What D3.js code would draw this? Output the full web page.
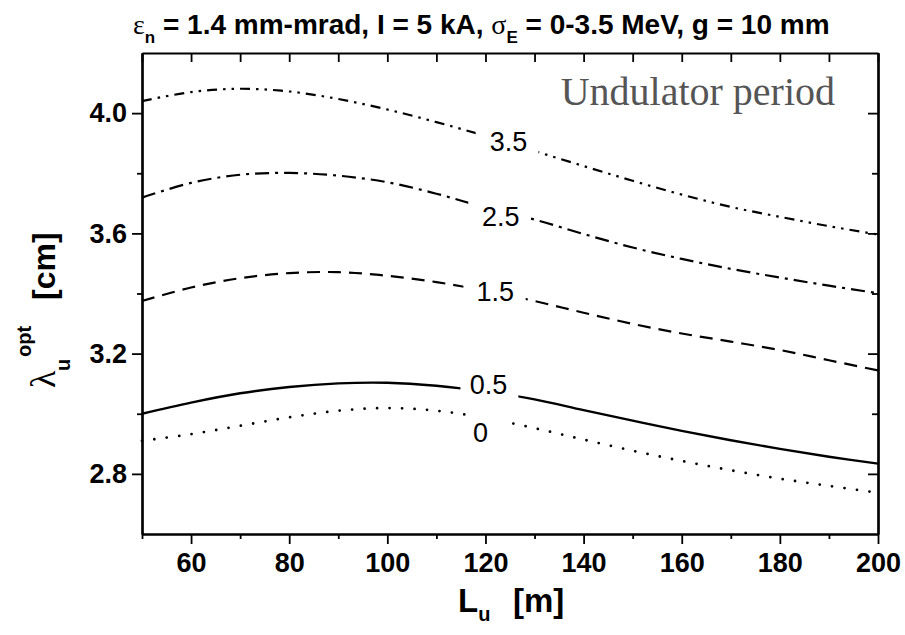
<!DOCTYPE html>
<html>
<head>
<meta charset="utf-8">
<script src="https://cdn.jsdelivr.net/npm/d3@7"></script>
<style>
  html, body { margin: 0; padding: 0; background: #fff; }
  svg { display: block; }
</style>
</head>
<body>
<div id="chart"></div>
<script>
// undulator length L_u [m]
const lengths = [50, 60, 70, 80, 90, 100, 110, 120, 130, 140, 150, 160, 170, 180, 190, 200];

// optimal undulator period [cm], one list per energy spread sigma_E [MeV]
const sigma0   = [2.910, 2.932, 2.960, 2.988, 3.010, 3.019, 3.010, 2.986, 2.952, 2.914, 2.877, 2.843, 2.812, 2.784, 2.760, 2.737];
const sigma0_5 = [3.000, 3.037, 3.068, 3.089, 3.101, 3.103, 3.093, 3.074, 3.048, 3.012, 2.977, 2.943, 2.912, 2.883, 2.857, 2.834];
const sigma1_5 = [3.375, 3.420, 3.451, 3.468, 3.471, 3.459, 3.438, 3.409, 3.375, 3.336, 3.299, 3.267, 3.240, 3.212, 3.178, 3.144];
const sigma2_5 = [3.719, 3.768, 3.795, 3.801, 3.792, 3.770, 3.732, 3.686, 3.646, 3.598, 3.553, 3.515, 3.482, 3.453, 3.426, 3.401];
const sigma3_5 = [4.040, 4.070, 4.081, 4.072, 4.047, 4.012, 3.970, 3.924, 3.874, 3.824, 3.775, 3.729, 3.688, 3.655, 3.624, 3.596];

// inline curve labels: text, where the line is broken (L range) and where the label sits
const curveLabels = ["0", "0.5", "1.5", "2.5", "3.5"];
const gapFrom     = [117.0, 114.9, 115.5, 116.5, 118.0];
const gapTo       = [123.7, 126.7, 128.2, 129.2, 130.8];
const labelL      = [119.0, 120.6, 122.0, 123.1, 124.7];
const labelV      = [2.940, 3.099, 3.408, 3.656, 3.907];

const xMajor = [60, 80, 100, 120, 140, 160, 180, 200];
const xMinor = [50, 70, 90, 110, 130, 150, 170, 190];
const yMajor = [2.8, 3.2, 3.6, 4.0];
const yMinor = [3.0, 3.4, 3.8];

const series = [
    { name: "0",   values: sigma0,   dash: "0 12.5", width: 2.8, cap: "round" },
    { name: "0.5", values: sigma0_5, dash: null,     width: 2.4, cap: "butt" },
    { name: "1.5", values: sigma1_5, dash: "13 8",   width: 2.2, cap: "butt" },
    { name: "2.5", values: sigma2_5, dash: "14 6 3 6", width: 2.2, cap: "butt" },
    { name: "3.5", values: sigma3_5, dash: "10 6 2.5 6 2.5 6", width: 2.2, cap: "butt" }
];

const width = 905, height = 635;
const margin = { top: 53, right: 27, bottom: 101, left: 142 };

const x = d3.scaleLinear([50, 200], [margin.left, width - margin.right]);
const y = d3.scaleLinear([2.6, 4.2], [height - margin.bottom, margin.top]);

const svg = d3.select("#chart").append("svg")
    .attr("width", width)
    .attr("height", height)
    .attr("font-family", "'Liberation Sans', Arial, sans-serif");

// one clip per curve so the line breaks where its label sits
const defs = svg.append("defs");
series.forEach((s, i) => {
    const cp = defs.append("clipPath").attr("id", `gap${i}`);
    cp.append("rect")
        .attr("x", x(50) - 5).attr("y", y(4.2))
        .attr("width", x(gapFrom[i]) - x(50) + 5).attr("height", y(2.6) - y(4.2));
    cp.append("rect")
        .attr("x", x(gapTo[i])).attr("y", y(4.2))
        .attr("width", x(200) - x(gapTo[i]) + 5).attr("height", y(2.6) - y(4.2));
});

const line = d3.line()
    .x((d, i) => x(lengths[i]))
    .y(d => y(d))
    .curve(d3.curveCatmullRom.alpha(0.5));

svg.append("g")
  .selectAll("path")
  .data(series)
  .join("path")
    .attr("clip-path", (d, i) => `url(#gap${i})`)
    .attr("fill", "none")
    .attr("stroke", "#000")
    .attr("stroke-width", d => d.width)
    .attr("stroke-linecap", d => d.cap)
    .attr("stroke-dasharray", d => d.dash)
    .attr("d", d => line(d.values));

svg.append("g")
    .attr("font-size", 27)
    .attr("text-anchor", "middle")
  .selectAll("text")
  .data(curveLabels)
  .join("text")
    .attr("x", (d, i) => x(labelL[i]))
    .attr("y", (d, i) => y(labelV[i]))
    .attr("dy", "0.36em")
    .text(d => d);

// axes
const tickFmt = d3.format(".1f");

function styleAxis(g) {
    g.select(".domain").attr("stroke-width", 2.2);
    g.selectAll(".tick line").attr("stroke-width", 1.8);
    g.selectAll(".tick text")
        .attr("font-size", 27)
        .attr("font-weight", "bold")
        .attr("fill", "#000")
        .attr("font-family", "'Liberation Sans', Arial, sans-serif");
}

const axisB = svg.append("g").attr("transform", `translate(0,${y(2.6)})`);
axisB.call(d3.axisBottom(x).tickValues(xMajor).tickSize(10).tickPadding(9).tickSizeOuter(0))
    .call(styleAxis);
axisB.append("g").call(d3.axisBottom(x).tickValues(xMinor).tickSize(5).tickFormat("").tickSizeOuter(0))
    .call(styleAxis);

const axisL = svg.append("g").attr("transform", `translate(${x(50)},0)`);
axisL.call(d3.axisLeft(y).tickValues(yMajor).tickFormat(tickFmt).tickSize(10).tickPadding(5).tickSizeOuter(0))
    .call(styleAxis);
axisL.append("g").call(d3.axisLeft(y).tickValues(yMinor).tickSize(5).tickFormat("").tickSizeOuter(0))
    .call(styleAxis);

const axisT = svg.append("g").attr("transform", `translate(0,${y(4.2)})`);
axisT.call(d3.axisBottom(x).tickValues(xMajor.concat(xMinor)).tickSize(9).tickFormat("").tickSizeOuter(0))
    .call(styleAxis);

const axisR = svg.append("g").attr("transform", `translate(${x(200)},0)`);
axisR.call(d3.axisLeft(y).tickValues(yMajor).tickSize(10).tickFormat("").tickSizeOuter(0))
    .call(styleAxis);
axisR.append("g").call(d3.axisLeft(y).tickValues(yMinor).tickSize(6).tickFormat("").tickSizeOuter(0))
    .call(styleAxis);

// annotation inside the frame
svg.append("text")
    .attr("x", x(200) - 43)
    .attr("y", 105)
    .attr("text-anchor", "end")
    .attr("font-family", "'Liberation Serif', 'Times New Roman', serif")
    .attr("font-size", 40)
    .attr("fill", "#555")
    .text("Undulator period");

// title
const title = svg.append("text")
    .attr("x", 133)
    .attr("y", 34)
    .attr("font-size", 28)
    .attr("font-weight", "bold");
title.append("tspan").attr("font-weight", "normal").attr("font-family", "'Liberation Serif', serif").text("ε");
title.append("tspan").attr("font-size", 17).attr("dy", 9).text("n");
title.append("tspan").attr("dy", -9).text(" = 1.4 mm-mrad, I = 5 kA, ");
title.append("tspan").attr("font-weight", "normal").attr("font-family", "'Liberation Serif', serif").text("σ");
title.append("tspan").attr("font-size", 17).attr("dy", 9).text("E");
title.append("tspan").attr("dy", -9).text(" = 0-3.5 MeV, g = 10 mm");

// x axis title
const xt = svg.append("text")
    .attr("x", 458)
    .attr("y", 612)
    .attr("font-size", 33)
    .attr("font-weight", "bold");
xt.append("tspan").text("L");
xt.append("tspan").attr("font-size", 20).attr("dy", 9).text("u");
xt.append("tspan").attr("x", 513).attr("dy", -9).text("[m]");

// y axis title (rotated)
const yt = svg.append("text")
    .attr("transform", "translate(55,388) rotate(-90)")
    .attr("font-weight", "bold");
yt.append("tspan").attr("x", 0).attr("font-weight", "normal")
    .attr("font-family", "'Liberation Serif', serif").attr("font-size", 36).text("λ");
yt.append("tspan").attr("x", 17).attr("y", 15).attr("font-size", 20).text("u");
yt.append("tspan").attr("x", 31).attr("y", -24).attr("font-size", 20).text("opt");
yt.append("tspan").attr("x", 88).attr("y", 0).attr("font-size", 32).text("[cm]");
</script>
</body>
</html>
